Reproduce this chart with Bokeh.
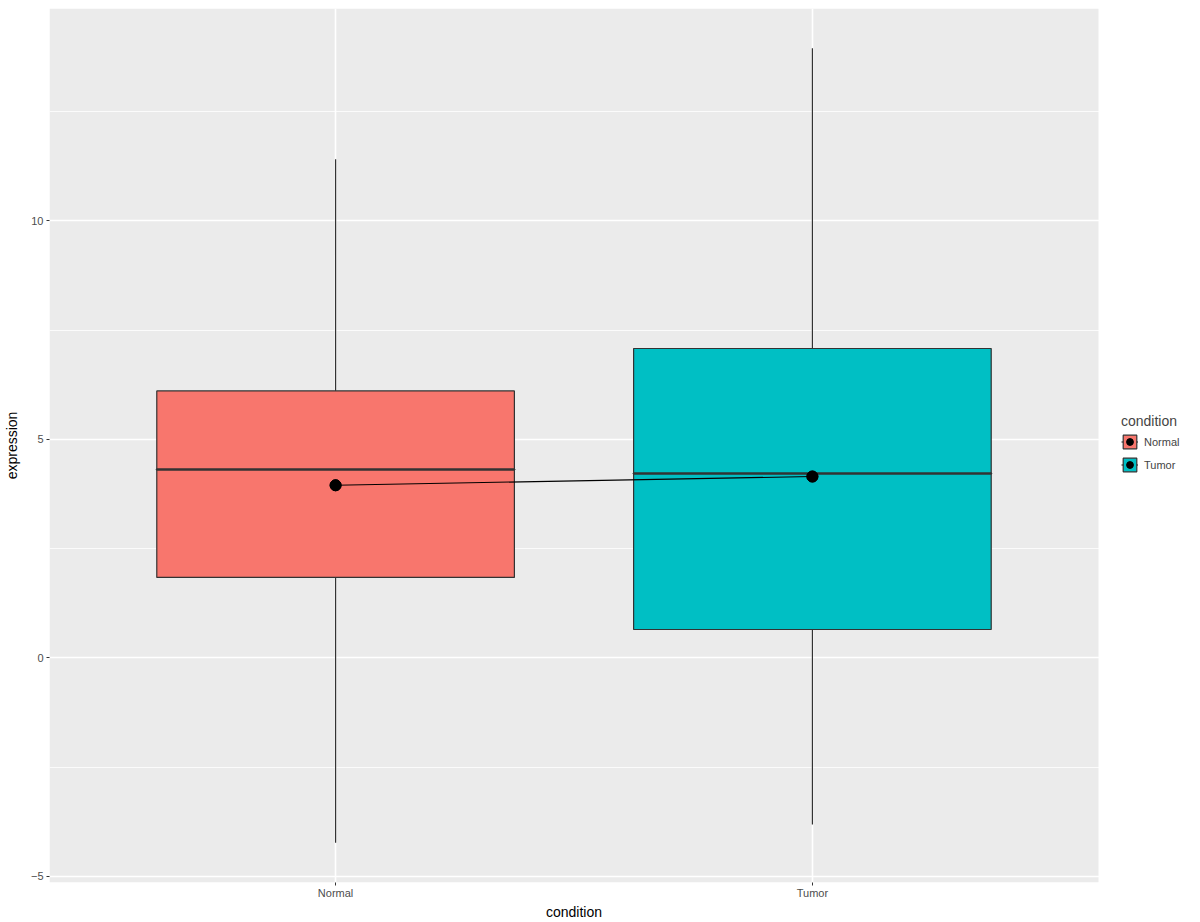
from bokeh.plotting import figure
from bokeh.models import (Range1d, FixedTicker, Legend, LegendItem, ColumnDataSource,
                          BoxAnnotation, Title)
from bokeh.embed import file_html
from bokeh.resources import INLINE

conditions = ["Normal", "Tumor"]
lower = [-4.23, -3.81]
q1 = [1.84, 0.65]
median = [4.31, 4.22]
q3 = [6.11, 7.08]
upper = [11.41, 13.95]
means = [3.95, 4.15]
colors = ["#F8766D", "#00BFC4"]
y_ticks = [-5, 0, 5, 10]

FONT = "Liberation Sans"
xpos = [i + 1 for i in range(len(conditions))]

# panel (grey) area and extra white area for the legend, both inside the frame
PANEL_W, EXTRA_W, PANEL_H = 1049, 95, 874
X0, X1 = 0.4, 2.6
x_end = X0 + (X1 - X0) * (PANEL_W + EXTRA_W) / PANEL_W

p = figure(output_backend="svg", toolbar_location=None,
           x_range=Range1d(X0, x_end), y_range=Range1d(-5.14, 14.86),
           min_border_left=0, min_border_top=8, min_border_bottom=0, min_border_right=0,
           frame_width=PANEL_W + EXTRA_W, frame_height=PANEL_H)
p.background_fill_color = "white"
p.border_fill_color = "white"
p.outline_line_color = None

# grey panel background, drawn beneath the grid
p.add_layout(BoxAnnotation(right=X1, fill_color="#EBEBEB", fill_alpha=1.0,
                           line_color=None, level="image"))

p.xgrid.grid_line_color = "white"
p.xgrid.grid_line_width = 1.6
p.ygrid.grid_line_color = "white"
p.ygrid.grid_line_width = 1.6
p.ygrid.minor_grid_line_color = "white"
p.ygrid.minor_grid_line_width = 0.8

p.xaxis.ticker = FixedTicker(ticks=xpos)
p.xaxis.major_label_overrides = {x: c for x, c in zip(xpos, conditions)}
p.yaxis.ticker = FixedTicker(ticks=y_ticks, minor_ticks=[-2.5, 2.5, 7.5, 12.5])
for ax in (p.xaxis[0], p.yaxis[0]):
    ax.axis_line_color = None
    ax.major_tick_line_color = "#333333"
    ax.major_tick_in = 0
    ax.major_tick_out = 3
    ax.minor_tick_in = 0
    ax.minor_tick_out = 0
    ax.major_label_text_font = FONT
    ax.major_label_text_font_size = "11px"
    ax.major_label_text_color = "#4D4D4D"
    ax.axis_label_text_font = FONT
    ax.axis_label_text_font_size = "14px"
    ax.axis_label_text_font_style = "normal"
    ax.axis_label_text_color = "black"
p.yaxis.axis_label = "expression"
p.xaxis.major_label_standoff = 1
p.yaxis.major_label_standoff = 3
p.yaxis.axis_label_standoff = 8

xtitle = Title(text="condition", align="left", offset=PANEL_W / 2 - 28, standoff=0,
               text_font=FONT, text_font_size="14px", text_font_style="normal",
               text_color="black")
p.add_layout(xtitle, "below")

items = []
for i, c in enumerate(conditions):
    x = xpos[i]
    src = ColumnDataSource(dict(x=[x], lo=[lower[i]], q1=[q1[i]], med=[median[i]],
                                q3=[q3[i]], hi=[upper[i]], mean=[means[i]]))
    w1 = p.segment(x0="x", y0="q3", x1="x", y1="hi", source=src, line_color="#333333", line_width=1.2)
    w2 = p.segment(x0="x", y0="lo", x1="x", y1="q1", source=src, line_color="#333333", line_width=1.2)
    box = p.vbar(x="x", width=0.75, bottom="q1", top="q3", source=src,
                 fill_color=colors[i], line_color="#333333", line_width=1.2)
    p.hbar(y="med", left=x - 0.375, right=x + 0.375, height=0.0001, source=src,
           line_color="#333333", line_width=2.6, fill_color=None)
    items.append((c, [w1, box], i))

line = p.line(x=xpos, y=means, line_color="black", line_width=1.1)
pts = p.scatter(x=xpos, y=means, size=11, fill_color="black", line_color="black")

legend_items = []
for c, rs, i in items:
    pt = p.scatter(x=[xpos[i]], y=[means[i]], size=11, fill_color="black", line_color="black")
    legend_items.append(LegendItem(label=c, renderers=rs + [pt]))

legend = Legend(items=legend_items, title="condition", location=(PANEL_W + 23, 409),
                label_text_font=FONT, label_text_font_size="11px",
                title_text_font=FONT, title_text_font_size="14px", title_text_font_style="normal",
                glyph_width=17, glyph_height=17, label_height=17, spacing=6,
                border_line_color=None, background_fill_alpha=0,
                margin=0, padding=0, title_standoff=4, label_standoff=6)
p.add_layout(legend, "center")

open("out.html", "w").write(file_html(p, INLINE))
